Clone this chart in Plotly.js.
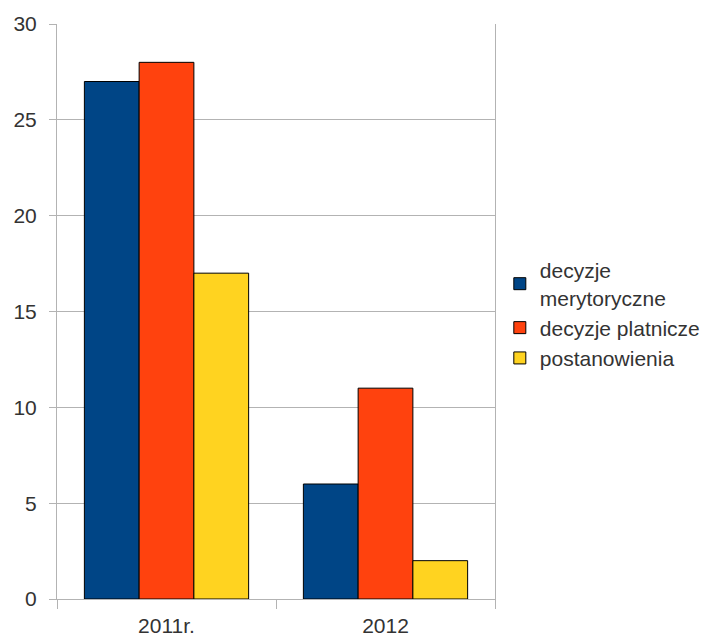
<!DOCTYPE html>
<html>
<head>
<meta charset="utf-8">
<script src="https://cdn.plot.ly/plotly-3.0.1.min.js"></script>
<style>html,body{margin:0;padding:0;background:#fff;}#chart{width:708px;height:640px;}</style>
</head>
<body>
<div id="chart"></div>
<script>
const categories = ["2011r.", "2012"];
const seriesNames = ["decyzje<br>merytoryczne", "decyzje platnicze", "postanowienia"];
const decyzjeMerytoryczne = [27, 6];
const decyzjePlatnicze = [28, 11];
const postanowienia = [17, 2];
const colors = ["#004586", "#ff420e", "#ffd320"];
const seriesValues = [decyzjeMerytoryczne, decyzjePlatnicze, postanowienia];

const traces = seriesValues.map((vals, i) => ({
  type: "bar",
  x: categories,
  y: vals,
  name: seriesNames[i],
  marker: {color: colors[i], line: {color: "#000000", width: 1}},
  hoverinfo: "none"
}));

const layout = {
  width: 708, height: 640,
  margin: {l: 57, r: 213, t: 24, b: 41, autoexpand: false},
  paper_bgcolor: "#ffffff",
  plot_bgcolor: "#ffffff",
  font: {family: "Liberation Sans, Arial, sans-serif", size: 21, color: "#333333"},
  barmode: "group",
  bargap: 0.25,
  bargroupgap: 0,
  showlegend: true,
  legend: {x: 1.011, xanchor: "left", y: 0.495, yanchor: "middle",
           font: {size: 21, color: "#333333"}, tracegroupgap: 0, bgcolor: "rgba(0,0,0,0)"},
  xaxis: {
    type: "category",
    tickson: "boundaries",
    ticks: "outside", ticklen: 9, tickcolor: "#b3b3b3", tickwidth: 1,
    ticklabelstandoff: 8,
    showgrid: false, zeroline: false,
    showline: true, linecolor: "#b3b3b3", linewidth: 1,
    tickfont: {size: 21, color: "#333333"}
  },
  yaxis: {
    range: [0, 30], tickvals: [0, 5, 10, 15, 20, 25, 30],
    ticks: "outside", ticklen: 7, tickcolor: "#b3b3b3",
    ticklabelstandoff: 8,
    showgrid: true, gridcolor: "#b3b3b3", gridwidth: 1,
    zeroline: false,
    showline: true, mirror: true, linecolor: "#b3b3b3", linewidth: 1,
    tickfont: {size: 21, color: "#333333"}
  }
};

Plotly.newPlot("chart", traces, layout, {displayModeBar: false, staticPlot: true});
</script>
</body>
</html>
